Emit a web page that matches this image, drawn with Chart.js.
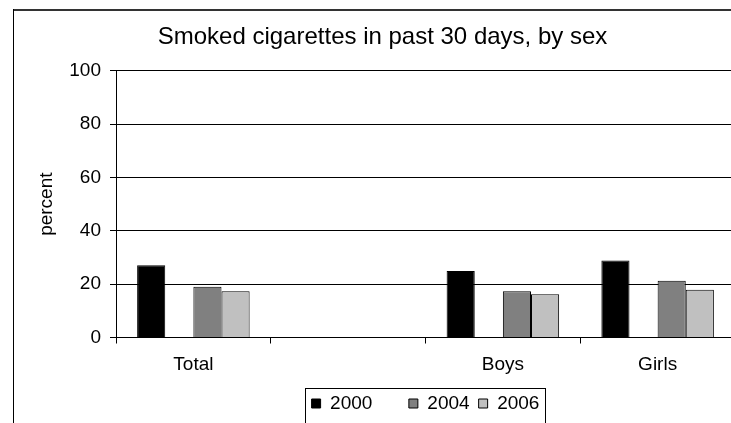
<!DOCTYPE html>
<html>
<head>
<meta charset="utf-8">
<script src="https://cdn.jsdelivr.net/npm/chart.js@4.4.1/dist/chart.umd.min.js"></script>
<style>
    html, body { margin: 0; padding: 0; background: #fff; overflow: hidden; }
    canvas { display: block; }
</style>
</head>
<body>
<canvas id="myChart" width="760" height="450"></canvas>
<script>
const categories = ['Total', '', 'Boys', 'Girls'];
const seriesNames = ['2000', '', '2004', '2006'];
const values2000 = [27.1, null, 24.9, 28.9];
const valuesBlank = [null, null, null, null];
const values2004 = [19.0, null, 17.3, 21.3];
const values2006 = [17.3, null, 16.2, 17.9];
const yTicks = [0, 20, 40, 60, 80, 100];

Chart.defaults.font.family = "'Liberation Sans', Arial, sans-serif";
Chart.defaults.color = '#000';

// outer frame + box round the legend
const framePlugin = {
    id: 'frames',
    afterDraw(chart) {
        const ctx = chart.ctx;
        ctx.save();
        ctx.fillStyle = '#333';
        ctx.fillRect(13, 9, 760, 2);
        ctx.fillStyle = '#000';
        ctx.fillRect(13, 9, 1, 500);
        const lg = chart.legend;
        const boxes = lg.legendHitBoxes;
        if (boxes && boxes.length) {
            const first = boxes[0];
            const last = boxes[boxes.length - 1];
            const l = Math.round(first.left - 7) + 0.5;
            const r = Math.round(last.left + last.width + 6) + 0.5;
            const t = Math.round(lg.top + 3) + 0.5;
            ctx.strokeStyle = '#000';
            ctx.lineWidth = 1;
            ctx.strokeRect(l, t, r - l, 60);
        }
        ctx.restore();
    }
};

const ctx = document.getElementById('myChart');

new Chart(ctx, {
    type: 'bar',
    data: {
        labels: categories,
        datasets: [{
            label: seriesNames[0],
            data: values2000,
            backgroundColor: '#000000',
            borderColor: '#000',
            borderWidth: 1
        }, {
            label: seriesNames[1],
            data: valuesBlank,
            backgroundColor: 'rgba(0,0,0,0)',
            borderColor: 'rgba(0,0,0,0)',
            borderWidth: 0
        }, {
            label: seriesNames[2],
            data: values2004,
            backgroundColor: '#808080',
            borderColor: '#000',
            borderWidth: 1
        }, {
            label: seriesNames[3],
            data: values2006,
            backgroundColor: '#c0c0c0',
            borderColor: '#000',
            borderWidth: 1
        }]
    },
    options: {
        responsive: false,
        animation: false,
        devicePixelRatio: 1,
        datasets: {
            bar: {
                categoryPercentage: 0.727,
                barPercentage: 1
            }
        },
        layout: {
            padding: { left: 13, right: 8, top: 10, bottom: 27 }
        },
        scales: {
            x: {
                grid: {
                    offset: true,
                    drawOnChartArea: false,
                    drawTicks: true,
                    tickLength: 6,
                    color: '#000'
                },
                border: { display: true, color: '#000' },
                ticks: {
                    font: { size: 19 },
                    padding: 10
                },
                afterFit: function (scale) {
                    scale.height = 47.5;
                }
            },
            y: {
                min: 0,
                max: 100,
                afterBuildTicks: function (scale) {
                    scale.ticks = yTicks.map(v => ({ value: v }));
                },
                grid: {
                    color: '#000',
                    tickLength: 6
                },
                border: { display: true, color: '#000' },
                ticks: {
                    font: { size: 19 },
                    padding: 9
                },
                title: {
                    display: true,
                    text: 'percent',
                    font: { size: 19 },
                    padding: { top: 22, bottom: 0 }
                },
                afterFit: function (scale) {
                    scale.width = 103;
                }
            },
            y2: {
                position: 'right',
                display: true,
                grid: { display: false },
                border: { display: false },
                ticks: { display: false },
                afterFit: function (scale) {
                    scale.width = 17;
                }
            }
        },
        plugins: {
            title: {
                display: true,
                text: 'Smoked cigarettes in past 30 days, by sex',
                font: { size: 24, weight: 'normal' },
                color: '#000',
                padding: { top: 13, bottom: 19 }
            },
            legend: {
                display: true,
                position: 'bottom',
                fullSize: false,
                labels: {
                    font: { size: 19 },
                    boxWidth: 9,
                    boxHeight: 9,
                    padding: 9
                }
            },
            tooltip: { enabled: false }
        }
    },
    plugins: [framePlugin]
});
</script>
</body>
</html>
